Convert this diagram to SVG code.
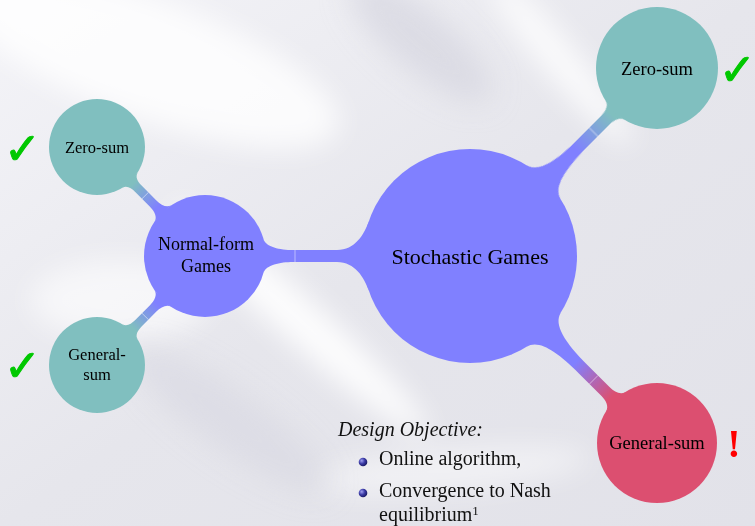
<svg xmlns="http://www.w3.org/2000/svg" width="755" height="526" viewBox="0 0 755 526">
  <defs>
    <linearGradient id="bg" x1="0" y1="0" x2="1" y2="1">
      <stop offset="0" stop-color="#f4f4f8"/>
      <stop offset="0.5" stop-color="#e6e6ec"/>
      <stop offset="1" stop-color="#e2e2e9"/>
    </linearGradient>
    <filter id="blur" x="-50%" y="-50%" width="200%" height="200%">
      <feGaussianBlur stdDeviation="14"/>
    </filter>
    <linearGradient id="gTeal" gradientUnits="userSpaceOnUse" x1="68" y1="0" x2="102" y2="0">
      <stop offset="0" stop-color="#8080ff"/>
      <stop offset="1" stop-color="#80bfbf"/>
    </linearGradient>
    <linearGradient id="gTealR" gradientUnits="userSpaceOnUse" x1="150" y1="0" x2="200" y2="0">
      <stop offset="0" stop-color="#8080ff"/>
      <stop offset="1" stop-color="#80bfbf"/>
    </linearGradient>
    <linearGradient id="gPink" gradientUnits="userSpaceOnUse" x1="150" y1="0" x2="200" y2="0">
      <stop offset="0" stop-color="#8080ff"/>
      <stop offset="1" stop-color="#dc4f70"/>
    </linearGradient>
    <radialGradient id="ball" cx="0.35" cy="0.35" r="0.7">
      <stop offset="0" stop-color="#a0a0f0"/>
      <stop offset="0.5" stop-color="#3c3ca8"/>
      <stop offset="1" stop-color="#181860"/>
    </radialGradient>
    <style>
      .lbl { font-family: "Liberation Serif", "Times New Roman", serif; fill: #000; text-anchor: middle; }
      .teal { fill: #80bfbf; }
      .blue { fill: #8080ff; }
      .pink { fill: #dc4f70; }
      .check { font-family: "DejaVu Sans", sans-serif; font-size: 44px; fill: #00c800; stroke: #00c800; stroke-width: 1; }
      .seam { stroke: #ffffff; stroke-opacity: 0.6; stroke-width: 0.8; }
      .body { font-family: "Liberation Serif", "Times New Roman", serif; font-size: 20px; fill: #111; }
    </style>
  </defs>

  <!-- background -->
  <rect width="755" height="526" fill="url(#bg)"/>
  <g filter="url(#blur)" fill="#ffffff">
    <ellipse cx="150" cy="60" rx="200" ry="60" transform="rotate(20 150 60)" opacity="0.8"/>
    <ellipse cx="300" cy="320" rx="170" ry="22" transform="rotate(42 300 320)" opacity="0.9"/>
    <ellipse cx="560" cy="60" rx="110" ry="18" transform="rotate(50 560 60)" opacity="0.8"/>
    <ellipse cx="120" cy="300" rx="90" ry="40" opacity="0.6"/>
    <ellipse cx="450" cy="470" rx="140" ry="20" transform="rotate(-5 450 470)" opacity="0.5"/>
  </g>
  <g filter="url(#blur)" fill="#d6d6e0">
    <ellipse cx="420" cy="40" rx="90" ry="30" transform="rotate(40 420 40)" opacity="0.7"/>
    <ellipse cx="230" cy="420" rx="120" ry="30" transform="rotate(35 230 420)" opacity="0.5"/>
  </g>

  <!-- connectors -->
  <g id="connectors">
    <g transform="translate(205 256)">
      <path class="blue" d="M58.6,-16.8 C60.8,-9.1 75,-6 88,-6 L132,-6 C150,-6 159.2,-21.6 163.8,-34.8 L163.8,34.8 C159.2,21.6 150,6 132,6 L88,6 C75,6 60.8,9.1 58.6,16.8 Z"/>
      <line class="seam" x1="90" y1="-6" x2="90" y2="6"/>
    </g>
    <g transform="translate(205 256) rotate(-134.7)">
      <path fill="url(#gTeal)" d="M59.9,-11.6 C60.9,-6.7 67,-4.5 74,-4.5 L95,-4.5 C100,-4.5 105.5,-5.9 106.6,-10.8 L106.6,10.8 C105.5,5.9 100,4.5 95,4.5 L74,4.5 C67,4.5 60.9,6.7 59.9,11.6 Z"/>
      <line class="seam" x1="85" y1="-4.5" x2="85" y2="4.5"/>
    </g>
    <g transform="translate(205 256) rotate(134.7)">
      <path fill="url(#gTeal)" d="M59.9,-11.6 C60.9,-6.7 67,-4.5 74,-4.5 L95,-4.5 C100,-4.5 105.5,-5.9 106.6,-10.8 L106.6,10.8 C105.5,5.9 100,4.5 95,4.5 L74,4.5 C67,4.5 60.9,6.7 59.9,11.6 Z"/>
      <line class="seam" x1="85" y1="-4.5" x2="85" y2="4.5"/>
    </g>
    <g transform="translate(470 256) rotate(-45.1)">
      <path fill="url(#gTealR)" d="M104.3,-24.1 C107.4,-10.5 128,-6 160,-6 L192,-6 C198,-6 204.5,-7.9 205.8,-13.7 L205.8,13.7 C204.5,7.9 198,6 192,6 L160,6 C128,6 107.4,10.5 104.3,24.1 Z"/>
      <line class="seam" x1="175" y1="-6" x2="175" y2="6"/>
    </g>
    <g transform="translate(470 256) rotate(45)">
      <path fill="url(#gPink)" d="M104.3,-24.1 C107.4,-10.5 128,-6 160,-6 L192,-6 C198,-6 204.5,-7.9 206.1,-13.5 L206.1,13.5 C204.5,7.9 198,6 192,6 L160,6 C128,6 107.4,10.5 104.3,24.1 Z"/>
      <line class="seam" x1="175" y1="-6" x2="175" y2="6"/>
    </g>
  </g>

  <!-- nodes -->
  <g id="stochastic">
    <circle class="blue" cx="470" cy="256" r="107"/>
    <text class="lbl" x="470" y="264" font-size="22">Stochastic Games</text>
  </g>
  <g id="normal-form">
    <circle class="blue" cx="205" cy="256" r="61"/>
    <text class="lbl" x="206" y="250" font-size="18">Normal-form</text>
    <text class="lbl" x="206" y="272" font-size="18">Games</text>
  </g>
  <g id="nf-zero-sum">
    <circle class="teal" cx="97" cy="147" r="48"/>
    <text class="lbl" x="97" y="153" font-size="16.5">Zero-sum</text>
  </g>
  <g id="nf-general-sum">
    <circle class="teal" cx="97" cy="365" r="48"/>
    <text class="lbl" x="97" y="360" font-size="16.5">General-</text>
    <text class="lbl" x="97" y="380" font-size="16.5">sum</text>
  </g>
  <g id="sg-zero-sum">
    <circle class="teal" cx="657" cy="68" r="61"/>
    <text class="lbl" x="657" y="75" font-size="18.5">Zero-sum</text>
  </g>
  <g id="sg-general-sum">
    <circle class="pink" cx="657" cy="443" r="60"/>
    <text class="lbl" x="657" y="449" font-size="18.5">General-sum</text>
  </g>

  <!-- marks -->
  <g id="marks">
    <text class="check" x="4" y="164">✓</text>
    <text class="check" x="4" y="381">✓</text>
    <text class="check" x="719" y="85">✓</text>
    <text x="734" y="457" text-anchor="middle" font-family="Liberation Serif, serif" font-weight="bold" font-size="40" fill="#ff0000">!</text>
  </g>

  <!-- design objective -->
  <g id="objective">
    <text class="body" x="338" y="436" font-style="italic">Design Objective:</text>
    <circle cx="363" cy="462" r="4.3" fill="url(#ball)"/>
    <text class="body" x="379" y="465">Online algorithm,</text>
    <circle cx="363" cy="493" r="4.3" fill="url(#ball)"/>
    <text class="body" x="379" y="497">Convergence to Nash</text>
    <text class="body" x="379" y="521">equilibrium<tspan font-size="13" dy="-6">1</tspan></text>
  </g>
</svg>
